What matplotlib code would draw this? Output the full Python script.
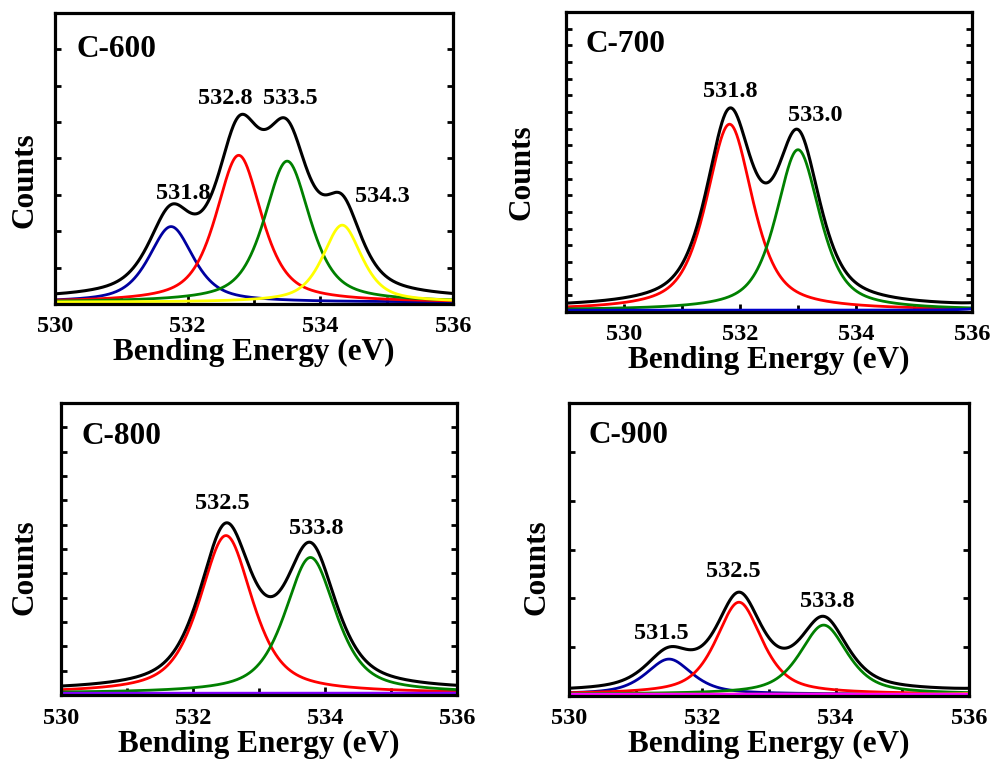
import numpy as np
import matplotlib
matplotlib.use('Agg')
import matplotlib.pyplot as plt
from matplotlib.ticker import MultipleLocator, FixedLocator, NullFormatter

plt.rcParams['font.family'] = ['Liberation Serif', 'DejaVu Serif']
plt.rcParams['font.weight'] = 'bold'

# peak parameters (height in % of axis height)
names = ['C-600', 'C-700', 'C-800', 'C-900']
xlims = [(530, 536), (529, 536), (530, 536), (530, 536)]
n_yticks = [8, 18, 12, 6]

c600_centers = [531.75, 532.77, 533.50, 534.33]
c600_heights = [26.0, 50.5, 48.5, 26.5]
c600_fwhm = [0.80, 0.82, 0.82, 0.70]
c600_colors = ['#0000A0', '#FF0000', '#008000', '#FFFF00']

c700_centers = [531.82, 533.00, 536.50]
c700_heights = [62.0, 53.5, 3.0]
c700_fwhm = [0.95, 0.90, 0.50]
c700_colors = ['#FF0000', '#008000', '#0000CC']

c800_centers = [532.50, 533.78, 537.00]
c800_heights = [54.0, 46.5, 0.3]
c800_fwhm = [0.95, 0.92, 1.00]
c800_colors = ['#FF0000', '#008000', '#8000FF']

c900_centers = [531.50, 532.55, 533.82, 536.60, 537.50]
c900_heights = [12.0, 31.4, 23.6, 2.0, 0.3]
c900_fwhm = [0.82, 0.82, 0.85, 0.60, 1.00]
c900_colors = ['#0000A0', '#FF0000', '#008000', '#FF8C00', '#FF00FF']

background = 0.8
lorentz_frac = 0.65

peak_labels = [
    [('531.8', 531.93, 37.5), ('532.8', 532.56, 70.0), ('533.5', 533.54, 70.0), ('534.3', 534.94, 36.5)],
    [('531.8', 531.84, 73.0), ('533.0', 533.29, 65.0)],
    [('532.5', 532.45, 65.0), ('533.8', 533.86, 56.5)],
    [('531.5', 531.38, 20.8), ('532.5', 532.46, 42.0), ('533.8', 533.88, 31.8)],
]

# axes boxes in pixels (left, top, right, bottom) of a 994x765 figure
boxes = [(55, 13, 453, 304), (566, 12, 972, 312), (61, 403, 457, 695), (569, 403, 969, 696)]
title_pos = [(0.055, 0.875), (0.047, 0.89), (0.053, 0.885), (0.05, 0.89)]
ylabel_pos = [(-0.075, 0.426), (-0.108, 0.467), (-0.091, 0.438), (-0.08, 0.44)]
xlabel_off = [-0.168, -0.160, -0.171, -0.167]

panels = [
    (c600_centers, c600_heights, c600_fwhm, c600_colors),
    (c700_centers, c700_heights, c700_fwhm, c700_colors),
    (c800_centers, c800_heights, c800_fwhm, c800_colors),
    (c900_centers, c900_heights, c900_fwhm, c900_colors),
]


def pseudo_voigt(x, center, height, fwhm, eta=lorentz_frac):
    hw = fwhm / 2.0
    u = (x - center) / hw
    lor = 1.0 / (1.0 + u ** 2)
    gau = np.exp(-np.log(2) * u ** 2)
    return height * (eta * lor + (1 - eta) * gau)


fig = plt.figure(figsize=(9.94, 7.65), dpi=100)
W, H = 994.0, 765.0

for i in range(4):
    l, t, r, b = boxes[i]
    ax = fig.add_axes([l / W, 1 - b / H, (r - l) / W, (b - t) / H])
    centers, heights, fwhms, colors = panels[i]
    x = np.linspace(xlims[i][0], xlims[i][1], 800)
    total = np.zeros_like(x) + background
    for c, h, w, col in zip(centers, heights, fwhms, colors):
        y = pseudo_voigt(x, c, h, w)
        total += y
        ax.plot(x, y, color=col, lw=2.0)
    ax.plot(x, total, color='black', lw=2.2)

    ymin, ymax = -0.6, 99.4
    ax.set_xlim(*xlims[i])
    ax.set_ylim(ymin, ymax)
    ax.xaxis.set_major_locator(FixedLocator([530, 532, 534, 536]))
    ax.xaxis.set_minor_locator(MultipleLocator(1))
    ax.yaxis.set_major_locator(FixedLocator(np.linspace(ymin, ymax, n_yticks[i] + 1)[1:-1]))
    ax.yaxis.set_major_formatter(NullFormatter())
    ax.tick_params(axis='x', which='both', direction='in', top=False, bottom=True,
                   labelsize=17.5, pad=9)
    ax.tick_params(axis='x', which='major', length=6, width=2)
    ax.tick_params(axis='x', which='minor', length=5, width=2)
    ax.tick_params(axis='y', which='major', direction='in', left=True, right=True,
                   length=4, width=2)
    for lab in ax.get_xticklabels():
        lab.set_fontweight('bold')
    for s in ax.spines.values():
        s.set_linewidth(2.3)

    ax.set_xlabel('Bending Energy (eV)', fontsize=22.5, fontweight='bold')
    ax.xaxis.set_label_coords(0.5, xlabel_off[i])
    ax.xaxis.label.set_va('center')
    ax.set_ylabel('Counts', fontsize=22.5, fontweight='bold')
    ax.yaxis.set_label_coords(*ylabel_pos[i])
    ax.yaxis.label.set_va('center')

    ax.text(title_pos[i][0], title_pos[i][1], names[i], transform=ax.transAxes,
            fontsize=22.5, fontweight='bold', ha='left', va='center')
    for txt, px, py in peak_labels[i]:
        ax.text(px, py, txt, fontsize=17.5, fontweight='bold', ha='center', va='center')

fig.savefig('out.png', dpi=100)
